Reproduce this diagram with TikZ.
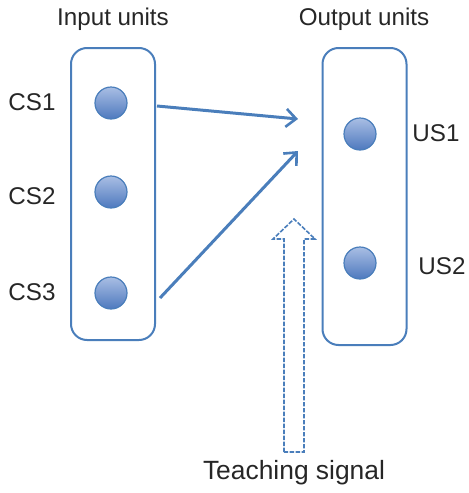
\documentclass[tikz,border=0pt]{standalone}
\usepackage{fontspec}
\setmainfont{Liberation Sans}
\usetikzlibrary{arrows.meta}
\definecolor{unitblue}{HTML}{4A7EBB}
\definecolor{unitlight}{HTML}{A9BEE4}
\definecolor{unitdark}{HTML}{4E79BE}
\tikzset{
  layer/.style={draw=unitblue, line width=1pt, rounded corners=8pt,
    minimum width=42pt, inner sep=0pt},
  unit/.style={circle, draw=unitblue, line width=0.6pt, minimum size=16pt,
    inner sep=0pt, top color=unitlight, bottom color=unitdark},
  lbl/.style={font=\fontsize{12.1}{14}\selectfont, text=black!85, inner sep=0pt},
  link/.style={draw=unitblue, line width=1.5pt,
    -{Straight Barb[length=5pt,width=9pt,line width=1.3pt]}}
}
\begin{document}
\begin{tikzpicture}[x=0.5pt,y=-0.5pt]
  \useasboundingbox (0,0) rectangle (469,493);
  \node [layer, minimum height=146pt]   (in)  at (113,194)   {};
  \node [layer, minimum height=148.5pt] (out) at (364.5,196.5) {};
  \node [lbl] at (113,19) {Input units};
  \node [lbl] at (364,19) {Output units};
  \node [unit] (cs1) at (111,103) {};
  \node [unit] (cs2) at (111,192) {};
  \node [unit] (cs3) at (111,293) {};
  \node [unit] (us1) at (360,134) {};
  \node [unit] (us2) at (360,263) {};
  \node [lbl] (l1) at (32,102) {CS1};
  \node [lbl] (l2) at (32,196) {CS2};
  \node [lbl] (l3) at (32,292) {CS3};
  \node [lbl] (l4) at (436,133) {US1};
  \node [lbl] (l5) at (442,266) {US2};
  \coordinate (a1) at (157,106);
  \coordinate (b1) at (298,119);
  \coordinate (a3) at (160,298);
  \coordinate (b3) at (298,151);
  \draw [link] (a1) -- (b1);
  \draw [link] (a3) -- (b3);
  % teaching signal
  \draw [unitblue, line width=0.8pt, dash pattern=on 2.2pt off 0.8pt, fill=white]
    (284,452) -- (284,239) -- (273,239) -- (294,219) -- (315,239)
    -- (304,239) -- (304,452) -- cycle;
  \node [lbl, font=\fontsize{13.2}{15}\selectfont] (teach) at (294,473) {Teaching signal};
\end{tikzpicture}
\end{document}
